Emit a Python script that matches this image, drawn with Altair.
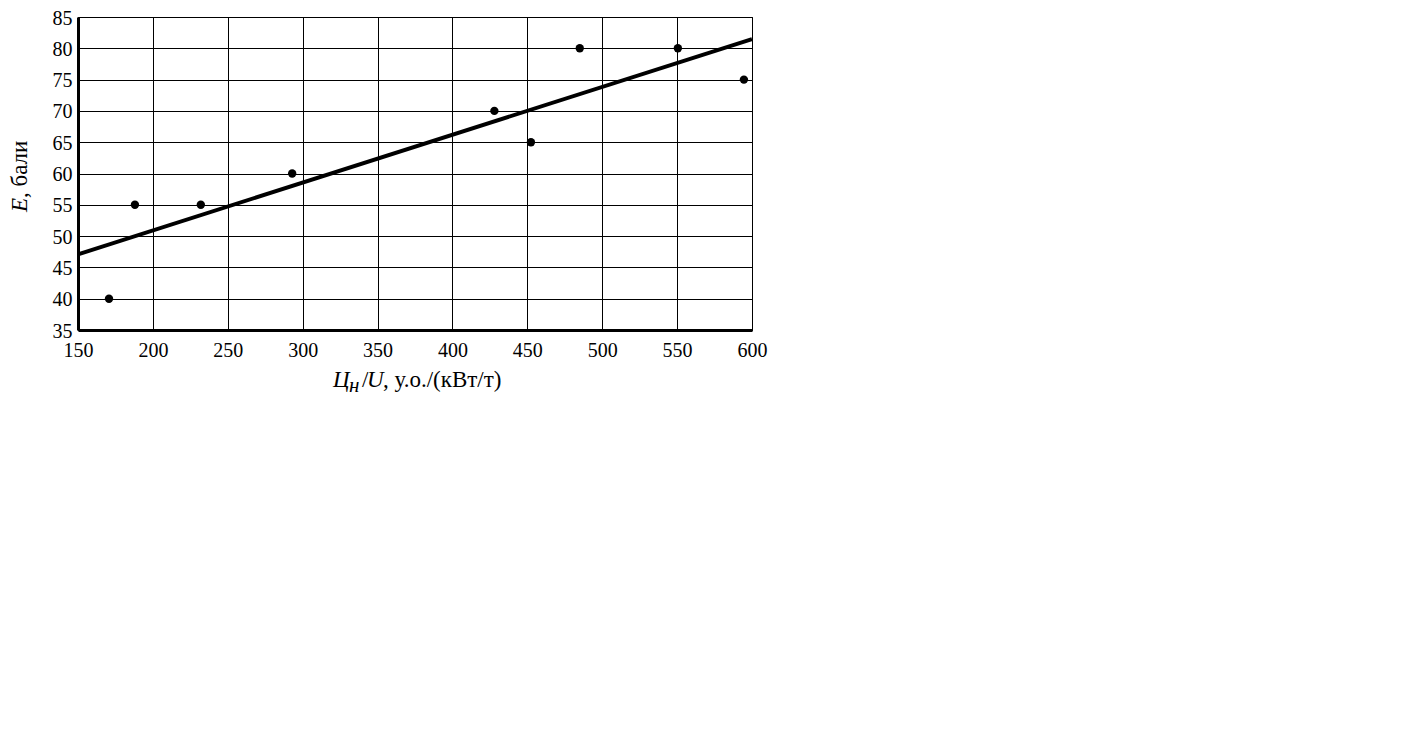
import altair as alt
import pandas as pd

# Data
x_vals = [170.7, 188, 232, 293, 428, 452.4, 485, 550.5, 594.6]
y_vals = [40, 55, 55, 60, 70, 65, 80, 80, 75]
x_ticks = [150, 200, 250, 300, 350, 400, 450, 500, 550, 600]
y_ticks = [35, 40, 45, 50, 55, 60, 65, 70, 75, 80, 85]

df = pd.DataFrame({"x": x_vals, "y": y_vals})

FONT = "Liberation Serif"

xscale = alt.Scale(domain=[150, 600], nice=False, zero=False)
yscale = alt.Scale(domain=[35, 85], nice=False, zero=False)


def xaxis():
    return alt.Axis(values=x_ticks, title=None, grid=True, gridColor="black",
                    gridWidth=1, gridOpacity=1, domainColor="black", domainWidth=3,
                    ticks=False, labelFont=FONT, labelFontSize=20, labelColor="black",
                    labelPadding=10, labelFlush=False, labelOverlap=False)


def yaxis():
    return alt.Axis(values=y_ticks, title=None, grid=True, gridColor="black",
                    gridWidth=1, gridOpacity=1, domainColor="black", domainWidth=3,
                    ticks=False, labelFont=FONT, labelFontSize=20, labelColor="black",
                    labelPadding=6, labelFlush=False, labelOverlap=False,
                    labelBaseline="alphabetic", labelOffset=7)


points = alt.Chart(df).mark_circle(size=70, color="black", opacity=1).encode(
    x=alt.X("x:Q", scale=xscale, axis=xaxis()),
    y=alt.Y("y:Q", scale=yscale, axis=yaxis()),
)

line = alt.Chart(df).transform_regression(
    "x", "y", extent=[150, 600]
).mark_line(color="black", strokeWidth=4).encode(
    x=alt.X("x:Q", scale=xscale, axis=xaxis()),
    y=alt.Y("y:Q", scale=yscale, axis=yaxis()),
)


def txt(text, x, y, size=23, style="normal", angle=0, baseline="alphabetic"):
    kw = dict(text=text, font=FONT, fontSize=size, fontStyle=style, align="left",
              baseline=baseline, color="black")
    if angle:
        kw["angle"] = angle
    return alt.Chart(alt.Data(values=[{"a": 1}])).mark_text(**kw).encode(
        x=alt.value(x), y=alt.value(y)
    )


# Y axis title: "E, бали" (E italic), rotated
yt1 = txt("E", -51, 195, style="italic", angle=270)
yt2 = txt(", бали", -51, 181, angle=270)

# X axis title: "Цн/U, у.о./(кВт/т)"
xt1 = txt("Ц", 255, 370, style="italic")
xt2 = txt("н", 271, 375, size=21, style="italic")
xt3 = txt("/", 284, 370)
xt4 = txt("U", 289, 370, style="italic")
xt5 = txt(", у.о./(кВт/т)", 305, 370)

chart = alt.layer(line, points, yt1, yt2, xt1, xt2, xt3, xt4, xt5).properties(
    width=674,
    height=313,
    autosize=alt.AutoSizeParams(type="none"),
    padding={"left": 70, "top": 9, "right": 30, "bottom": 80},
    background="white",
).configure_view(stroke="black", strokeWidth=1)

chart.save("out.html", embed_options={"renderer": "svg", "actions": False})
